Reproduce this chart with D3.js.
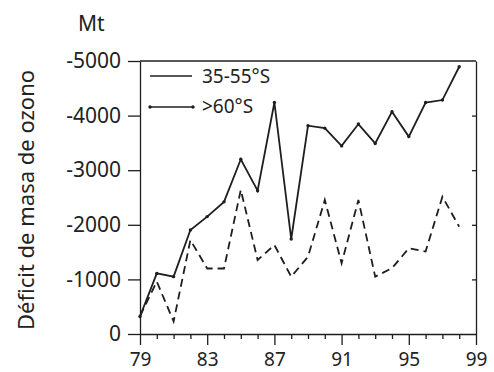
<!DOCTYPE html>
<html>
<head>
<meta charset="utf-8">
<script src="https://cdn.jsdelivr.net/npm/d3@7"></script>
<style>
  html, body { margin: 0; padding: 0; background: #fff; }
  svg { display: block; }
  text { font-family: "Noto Sans", "Open Sans", sans-serif; fill: #222; }
</style>
</head>
<body>
<svg id="chart" width="494" height="372"></svg>
<script>
// ---- data ----
const years = [79,80,81,82,83,84,85,86,87,88,89,90,91,92,93,94,95,96,97,98];
const south60 = [-320,-1110,-1050,-1905,-2150,-2420,-3200,-2625,-4240,-1740,-3815,-3770,-3445,-3845,-3490,-4070,-3615,-4240,-4285,-4895];
const south35_55 = [-330,-960,-230,-1720,-1200,-1200,-2640,-1355,-1630,-1050,-1415,-2455,-1295,-2455,-1050,-1205,-1570,-1510,-2515,-1965];
const xTicks = [79,83,87,91,95,99];
const yTicks = [0,-1000,-2000,-3000,-4000,-5000];
const legendLabels = ["35-55°S", ">60°S"];
const yTitle = "Déficit de masa de ozono";
const unitLabel = "Mt";

// ---- layout ----
const svg = d3.select("#chart");
const ink = "#1e1e1e";
const x = d3.scaleLinear().domain([79, 99]).range([140, 476]);
const y = d3.scaleLinear().domain([0, -5000]).range([334, 61]);

// left axis
const yAxis = d3.axisLeft(y).tickValues(yTicks).tickFormat(d => d === 0 ? "0" : "-" + Math.abs(d))
  .tickSize(12).tickSizeOuter(0).tickPadding(7);
const gy = svg.append("g").attr("transform", `translate(${x(79)},0)`).call(yAxis);
gy.selectAll("text").style("font-size", "21px").attr("fill", "#222");

// bottom axis major + minor
const xAxis = d3.axisBottom(x).tickValues(xTicks).tickFormat(d3.format("d"))
  .tickSize(11).tickSizeOuter(0).tickPadding(8);
const gx = svg.append("g").attr("transform", `translate(0,${y(0)})`).call(xAxis);
gx.selectAll("text").style("font-size", "19px").attr("fill", "#222");
const minorYears = d3.range(79, 100).filter(v => !xTicks.includes(v));
svg.append("g").attr("transform", `translate(0,${y(0)})`)
  .call(d3.axisBottom(x).tickValues(minorYears).tickSize(5).tickSizeOuter(0).tickFormat(""))
  .select(".domain").remove();

// right axis (inner ticks)
svg.append("g").attr("transform", `translate(${x(99)},0)`)
  .call(d3.axisLeft(y).tickValues([-1000,-2000,-3000,-4000]).tickSize(4).tickSizeOuter(0).tickFormat(""));

// top frame
svg.append("line").attr("x1", x(79)).attr("x2", x(99)).attr("y1", y(-5000)).attr("y2", y(-5000))
  .attr("stroke", ink).attr("stroke-width", 1.3);

svg.selectAll(".domain, .tick line").attr("stroke", ink).attr("stroke-width", 1.3);

// lines
const line = d3.line().x((d, i) => x(years[i])).y(d => y(d));
svg.append("path").datum(south35_55).attr("d", line)
  .attr("fill", "none").attr("stroke", ink).attr("stroke-width", 1.8)
  .attr("stroke-dasharray", "8,5");
svg.append("path").datum(south60).attr("d", line)
  .attr("fill", "none").attr("stroke", ink).attr("stroke-width", 1.8).attr("stroke-linejoin", "miter");
svg.append("g").selectAll("circle").data(south60).join("circle")
  .attr("cx", (d, i) => x(years[i])).attr("cy", d => y(d)).attr("r", 1.7).attr("fill", ink);

// legend
const lg = svg.append("g");
lg.append("line").attr("x1", 150).attr("x2", 192).attr("y1", 76).attr("y2", 76)
  .attr("stroke", ink).attr("stroke-width", 1.5);
lg.append("line").attr("x1", 150).attr("x2", 193).attr("y1", 107).attr("y2", 107)
  .attr("stroke", ink).attr("stroke-width", 1.5);
lg.selectAll("circle").data([150, 193]).join("circle")
  .attr("cx", d => d).attr("cy", 107).attr("r", 1.7).attr("fill", ink);
lg.selectAll("text").data(legendLabels).join("text")
  .attr("x", 202).attr("y", (d, i) => i === 0 ? 83 : 113)
  .style("font-size", "19px").text(d => d);

// unit and title
svg.append("text").attr("x", 78).attr("y", 31).style("font-size", "21px").text(unitLabel);
svg.append("text").attr("transform", "translate(34,200) rotate(-90)")
  .attr("text-anchor", "middle").style("font-size", "22px").text(yTitle);
</script>
</body>
</html>
